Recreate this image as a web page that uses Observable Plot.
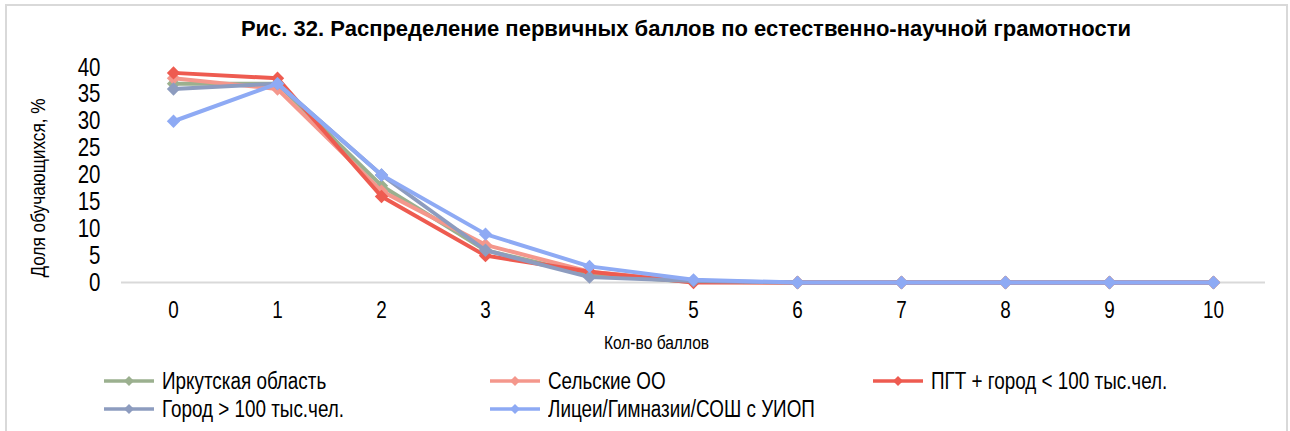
<!DOCTYPE html>
<html>
<head>
<meta charset="utf-8">
<script src="https://cdn.jsdelivr.net/npm/d3@7"></script>
<script src="https://cdn.jsdelivr.net/npm/@observablehq/plot@0.6"></script>
<style>
  html, body { margin: 0; padding: 0; background: #fff; }
  body { width: 1290px; height: 431px; overflow: hidden; position: relative;
         font-family: "Liberation Sans", Arial, sans-serif; color: #000; }
  #frame { position: absolute; left: 5px; top: 4px; width: 1283px; height: 460px; border: 2px solid #d9d9d9; box-sizing: border-box; }
  #title { position: absolute; left: 0; width: 1372px; top: 16px; text-align: center; font-weight: bold; font-size: 22px; white-space: nowrap; }
  #chart { position: absolute; left: 0; top: 50px; }
  .leg { position: absolute; display: flex; align-items: center; font-size: 23px; white-space: nowrap; }
  .leg svg { margin-right: 8px; }
  .leg span { display: inline-block; transform: scaleX(0.82); transform-origin: 0 50%; }
</style>
</head>
<body>
<div id="frame"></div>
<div id="title">Рис. 32. Распределение первичных баллов по естественно-научной грамотности</div>
<div id="chart"></div>
<div id="legend"></div>
<script>
const scores = [0, 1, 2, 3, 4, 5, 6, 7, 8, 9, 10];
const seriesNames = [
  "Иркутская область",
  "Сельские ОО",
  "ПГТ + город < 100 тыс.чел.",
  "Город > 100 тыс.чел.",
  "Лицеи/Гимназии/СОШ с УИОП"
];
const seriesColors = ["#9bb08f", "#f4978c", "#ee5b50", "#8d9cbf", "#8eaaf4"];
const irkutsk   = [37, 37, 18, 6, 1.5, 0.1, 0, 0, 0, 0, 0];
const rural     = [38, 36, 17, 7, 2, 0.2, 0, 0, 0, 0, 0];
const smallTown = [39, 38, 16, 5, 2, 0, 0, 0, 0, 0, 0];
const bigCity   = [36, 37, 20, 6, 1, 0.3, 0, 0, 0, 0, 0];
const lyceums   = [30, 37, 20, 9, 3, 0.5, 0, 0, 0, 0, 0];
const seriesValues = [irkutsk, rural, smallTown, bigCity, lyceums];
const yTicks = [0, 5, 10, 15, 20, 25, 30, 35, 40];
const xLabel = "Кол-во баллов";
const yLabel = "Доля обучающихся, %";

const rows = seriesNames.flatMap((name, i) =>
  scores.map((s, j) => ({series: name, score: s, value: seriesValues[i][j]})));

const seriesMarks = seriesNames.flatMap(name => {
  const d = rows.filter(r => r.series === name);
  return [
    Plot.line(d, {x: "score", y: "value", stroke: "series", strokeWidth: 4, strokeLinejoin: "round"}),
    Plot.dot(d, {x: "score", y: "value", fill: "series", symbol: "diamond2", r: 6})
  ];
});

const chart = Plot.plot({
  width: 1290,
  height: 310,
  marginTop: 17,
  marginBottom: 78,
  marginLeft: 121,
  marginRight: 25,
  style: {fontFamily: '"Liberation Sans", Arial, sans-serif', background: "transparent", color: "#000", overflow: "visible"},
  x: {type: "point", domain: scores, padding: 0.5},
  y: {domain: [0, 40]},
  color: {domain: seriesNames, range: seriesColors},
  marks: [
    Plot.ruleY([0], {stroke: "#d9d9d9", strokeWidth: 2}),
    Plot.axisX({ticks: scores, tickSize: 0, tickPadding: 19, fontSize: 23, label: null}),
    Plot.axisY({ticks: yTicks, tickSize: 0, tickPadding: 21, fontSize: 25, label: null}),
    Plot.text([xLabel], {frameAnchor: "bottom", textAnchor: "middle", dx: -37, dy: 66, fontSize: 19, text: d => d}),
    Plot.text([yLabel], {frameAnchor: "left", textAnchor: "middle", dx: -83, dy: 13, rotate: -90, fontSize: 21, text: d => d}),
    ...seriesMarks
  ]
});
document.getElementById("chart").appendChild(chart);

// condense chart texts horizontally (around their anchor) to mimic a narrow typeface
chart.querySelectorAll("text").forEach(t => {
  const bb = t.getBBox();
  const anchor = getComputedStyle(t).textAnchor;
  const px = anchor === "end" ? bb.x + bb.width : anchor === "middle" ? bb.x + bb.width / 2 : bb.x;
  const tr = t.getAttribute("transform") || "";
  t.setAttribute("transform", `${tr} translate(${px},0) scale(0.82,1) translate(${-px},0)`);
});

// legend
const legendPos = [
  {x: 104, y: 381}, {x: 490, y: 381}, {x: 873, y: 381},
  {x: 104, y: 409}, {x: 490, y: 409}
];
const legend = document.getElementById("legend");
seriesNames.forEach((name, i) => {
  const p = legendPos[i];
  const div = document.createElement("div");
  div.className = "leg";
  div.style.left = p.x + "px";
  div.style.top = (p.y - 14) + "px";
  div.style.height = "28px";
  const c = seriesColors[i];
  div.innerHTML = `<svg width="50" height="12"><line x1="0" x2="50" y1="6" y2="6" stroke="${c}" stroke-width="3.5"/><path d="M25,1 L30,6 L25,11 L20,6 Z" fill="${c}"/></svg><span></span>`;
  div.querySelector("span").textContent = name;
  legend.appendChild(div);
});
</script>
</body>
</html>
